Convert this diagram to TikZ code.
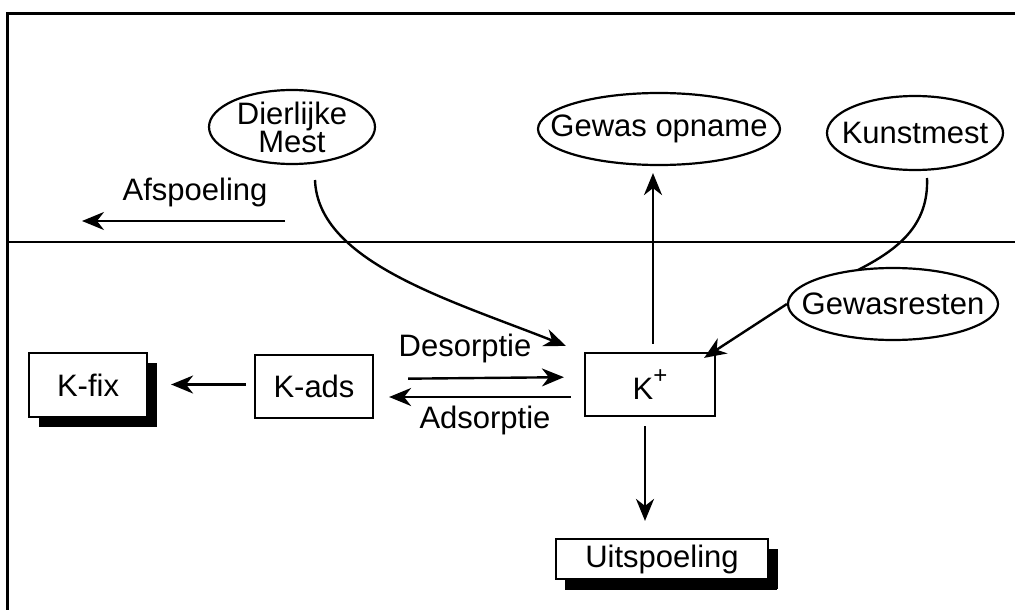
\documentclass[tikz,border=0pt]{standalone}
\usepackage{fontspec}
\setmainfont{Liberation Sans}
\usetikzlibrary{shapes.geometric,arrows.meta,shadows}
\begin{document}
\begin{tikzpicture}[x=1pt,y=-1pt,
  every node/.style={font=\fontsize{31}{28}\selectfont, inner sep=0pt},
  oval/.style={ellipse, draw, line width=2.2pt, fill=white},
  kbox/.style={rectangle, draw, line width=2.2pt, fill=white},
  shbox/.style={kbox, drop shadow={shadow xshift=10pt, shadow yshift=-10pt, fill=black, opacity=1}},
  arr/.style={line width=2.4pt, -{Stealth[length=22pt,width=18pt,inset=7pt]}},
  curve/.style={line width=2.4pt}
]
\fill[white] (0,0) rectangle (1015,610);
\useasboundingbox (0,0) rectangle (1015,610);
% frame and ground line
\draw[line width=3pt] (7,610) -- (7,14) -- (1015,14);
\draw[line width=2.4pt] (7,242) -- (1015,242);

% nodes
\node[oval, minimum width=166pt, minimum height=74pt] (dm) at (292,127) {};
\node[align=center] at (dm) {Dierlijke\\Mest};
\node[oval, minimum width=242pt, minimum height=72pt] (go) at (659,129) {};
\node at (go) {Gewas opname};
\node[oval, minimum width=176pt, minimum height=74pt] (km) at (915,133) {};
\node at (km) {Kunstmest};
\node[oval, minimum width=210pt, minimum height=72pt] (gr) at (893,304) {};
\node at (gr) {Gewasresten};
\node[kbox, minimum width=130pt, minimum height=63pt] (kp) at (650,384.5) {K\raisebox{0.5em}{\fontsize{24}{24}\selectfont +}};
\node[shbox, minimum width=118pt, minimum height=64pt] (kfix) at (88,385) {K-fix};
\node[kbox, minimum width=118pt, minimum height=63pt] (kads) at (314,386.5) {K-ads};
\node[shbox, minimum width=212pt, minimum height=40pt, drop shadow={shadow xshift=9pt, shadow yshift=-11pt, fill=black, opacity=1}] (uit) at (662,559) {Uitspoeling};

% labels
\node (afsp) at (195,192) {Afspoeling};
\node (des) at (465,348) {Desorptie};
\node (ads) at (485,420) {Adsorptie};

% free ends
\coordinate (af1) at (285,221);
\coordinate (af2) at (82,221);
\coordinate (dm1) at (315,180);
\coordinate (km1) at (927,178);
\coordinate (gr1) at (858,270);

% connectors
\draw[arr] (af1) -- (af2);
\draw[arr, shorten <=8pt, shorten >=23pt] ([yshift=2pt]kads.west) -- ([yshift=2pt]kfix.east |- kads.west);
\draw[arr, shorten <=34pt, shorten >=20pt] ([yshift=7.5pt]kads.east -| kads.east) -- ([yshift=7.5pt]kp.west);
\draw[arr, shorten <=13pt, shorten >=15pt] ([yshift=-12.5pt]kp.west) -- ([yshift=-10.5pt]kads.east);
\draw[arr] (dm1) .. controls (318,262) and (450,300) .. ([xshift=-18pt,yshift=6pt]kp.north west);
\draw[arr, shorten <=8pt, shorten >=7pt] ([xshift=3pt]kp.north) -- ([xshift=-6pt]go.south);
\draw[arr, shorten <=9pt, shorten >=17pt] ([xshift=-5pt]kp.south) -- ([xshift=-17pt]uit.north);
\draw[curve] (km1) .. controls (929,226) and (897,250) .. (gr1);
\draw[arr] (gr.west) -- ([xshift=-12pt,yshift=-6pt]kp.north east);
\end{tikzpicture}
\end{document}
